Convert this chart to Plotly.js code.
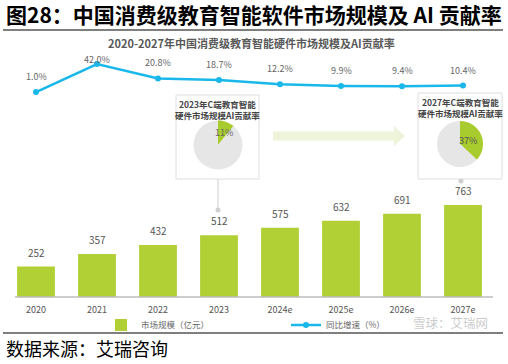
<!DOCTYPE html>
<html><head><meta charset="utf-8">
<script src="https://cdn.plot.ly/plotly-3.0.1.min.js"></script>
<style>html,body{margin:0;padding:0;background:#fff;}#chart{width:508px;height:364px;}</style>
</head><body><div id="chart"></div>
<script>
// ---- data ----
const years = ['2020','2021','2022','2023','2024e','2025e','2026e','2027e'];
const marketSize = [252,357,432,512,575,632,691,763];           // 市场规模（亿元）
const growthRate = [1.0,42.0,20.8,18.7,12.2,9.9,9.4,10.4];       // 同比增速（%）
const aiShareYears = ['2023','2027'];
const aiShare = [11,37];                                         // AI贡献率（%）
const seriesNames = ['市场规模（亿元）','同比增速（%）'];
const insetTitles = ['2023年C端教育智能<br>硬件市场规模AI贡献率','2027年C端教育智能<br>硬件市场规模AI贡献率'];

// ---- helpers (pixel -> paper) ----
const W=508,H=364;
const px=x=>x/W, py=y=>1-y/H;
const FONT='"Noto Sans CJK SC", "Noto Sans", sans-serif';
const GREEN='#b0d035', BLUE='#1ab8ea';

const barBase=297, barScale=0.1206, plotTop=40;
const lineZero=92.7, lineScale=0.683;

const traces=[
  {type:'bar', x:years, y:marketSize, name:seriesNames[0], marker:{color:GREEN}, width:0.62, hoverinfo:'skip'},
  {type:'scatter', mode:'lines+markers', x:years, y:growthRate, yaxis:'y2', name:seriesNames[1],
   line:{color:BLUE,width:2.5}, marker:{color:BLUE,size:6}, hoverinfo:'skip'},
  {type:'pie', values:[aiShare[0],100-aiShare[0]], sort:false, direction:'clockwise', rotation:0,
   marker:{colors:['#a8cb2e','#e6e6e6'], line:{color:'#fff',width:0}}, textinfo:'none', showlegend:false,
   domain:{x:[px(193.5),px(242.5)], y:[py(169.5),py(120.5)]}, hoverinfo:'skip'},
  {type:'pie', values:[aiShare[1],100-aiShare[1]], sort:false, direction:'clockwise', rotation:0,
   marker:{colors:['#a8cb2e','#e6e6e6'], line:{color:'#fff',width:0}}, textinfo:'none', showlegend:false,
   domain:{x:[px(437),px(483)], y:[py(167),py(121)]}, hoverinfo:'skip'}
];

const ann=[];
const P=(o)=>Object.assign({xref:'paper',yref:'paper',showarrow:false,xanchor:'center',yanchor:'middle'},o);
// header
ann.push(P({x:px(4),y:py(14),xanchor:'left',
  text:'<b>图28：中国消费级教育智能软件市场规模及 AI 贡献率</b>',font:{family:FONT,size:21,color:'#000'}}));
ann.push(P({x:px(251.5),y:py(43),
  text:'<b>2020-2027年中国消费级教育智能硬件市场规模及AI贡献率</b>',font:{family:FONT,size:11,color:'#595959'}}));
ann.push(P({x:px(4),y:py(348),xanchor:'left',
  text:'数据来源：艾瑞咨询',font:{family:FONT,size:18,color:'#000'}}));
// bar labels
years.forEach((yr,i)=>ann.push({x:i,y:marketSize[i],xref:'x',yref:'y',xanchor:'center',yanchor:'bottom',yshift:5,showarrow:false,
  text:String(marketSize[i]),font:{family:FONT,size:10,color:'#555'}}));
// line labels
years.forEach((yr,i)=>ann.push({x:i,y:growthRate[i],xref:'x',yref:'y2',xanchor:'center',yanchor:'bottom',yshift:(growthRate[i]>30?-4:7),showarrow:false,
  text:growthRate[i].toFixed(1)+'%',font:{family:FONT,size:9,color:'#666'}}));
// inset titles
ann.push(P({x:px(217.5),y:py(96),yanchor:'top',text:'<b>'+insetTitles[0]+'</b>',font:{family:FONT,size:8.5,color:'#444'}}));
ann.push(P({x:px(460),y:py(94),yanchor:'top',text:'<b>'+insetTitles[1]+'</b>',font:{family:FONT,size:8.5,color:'#444'}}));
// pie labels
ann.push(P({x:px(224),y:py(132),text:aiShare[0]+'%',font:{family:FONT,size:9,color:'#666'}}));
ann.push(P({x:px(468),y:py(140),text:aiShare[1]+'%',font:{family:FONT,size:9,color:'#555'}}));
// watermark
ann.push(P({x:px(450),y:py(322),text:'雪球：艾瑞网',font:{family:FONT,size:12.5,color:'rgba(150,150,150,0.5)'}}));

const shapes=[
  {type:'line',xref:'paper',yref:'paper',x0:px(3),x1:px(503),y0:py(30),y1:py(30),line:{color:'#555',width:1.5}},
  {type:'line',xref:'paper',yref:'paper',x0:px(3),x1:px(503),y0:py(333),y1:py(333),line:{color:'#555',width:1.5}},
  {type:'line',xref:'paper',yref:'paper',x0:px(15),x1:px(493),y0:py(297),y1:py(297),line:{color:'#bdbdbd',width:1.5}},
  // inset boxes
  {type:'rect',xref:'paper',yref:'paper',x0:px(176),x1:px(259),y0:py(179),y1:py(95),line:{color:'#dedede',width:1},fillcolor:'#fff',layer:'below'},
  {type:'rect',xref:'paper',yref:'paper',x0:px(418),x1:px(502),y0:py(179),y1:py(93),line:{color:'#dedede',width:1},fillcolor:'#fff',layer:'below'},
  // connectors
  {type:'line',xref:'paper',yref:'paper',x0:px(218),x1:px(218),y0:py(179),y1:py(209),line:{color:'#cfcfcf',width:1}},
  {type:'circle',xref:'paper',yref:'paper',x0:px(215.5),x1:px(220.5),y0:py(207.5),y1:py(212.5),line:{width:0},fillcolor:'#cfcfcf'},
  {type:'circle',xref:'paper',yref:'paper',x0:px(458.5),x1:px(463.5),y0:py(178.5),y1:py(183.5),line:{width:0},fillcolor:'#cfcfcf'},
  // arrow
  {type:'path',xref:'paper',yref:'paper',layer:'below',fillcolor:'#eef4da',line:{width:0},
   path:`M${px(273)},${py(131.5)} L${px(394)},${py(131.5)} L${px(394)},${py(126)} L${px(405)},${py(136)} L${px(394)},${py(146)} L${px(394)},${py(140.5)} L${px(273)},${py(140.5)} Z`}
];

const layout={
  width:W,height:H,margin:{l:0,r:0,t:0,b:0},paper_bgcolor:'#fff',plot_bgcolor:'rgba(0,0,0,0)',
  font:{family:FONT},
  xaxis:{domain:[px(5.5),px(493.5)],type:'category',range:[-0.5,7.5],showgrid:false,zeroline:false,showline:false,
    ticks:'',tickfont:{family:FONT,size:9,color:'#555'},ticklabelstandoff:6,fixedrange:true},
  yaxis:{domain:[py(barBase),py(plotTop)],range:[0,(barBase-plotTop)/barScale],visible:false,fixedrange:true},
  yaxis2:{overlaying:'y',range:[-(barBase-lineZero)/lineScale,(lineZero-plotTop)/lineScale],visible:false,fixedrange:true},
  showlegend:true,
  legend:{orientation:'h',x:px(101),y:py(325),xanchor:'left',yanchor:'middle',font:{family:FONT,size:8.5,color:'#666'},
    entrywidthmode:'pixels',entrywidth:140,bgcolor:'rgba(0,0,0,0)',traceorder:'normal'},
  annotations:ann,shapes:shapes
};
Plotly.newPlot('chart',traces,layout,{displayModeBar:false,staticPlot:true});
</script></body></html>
